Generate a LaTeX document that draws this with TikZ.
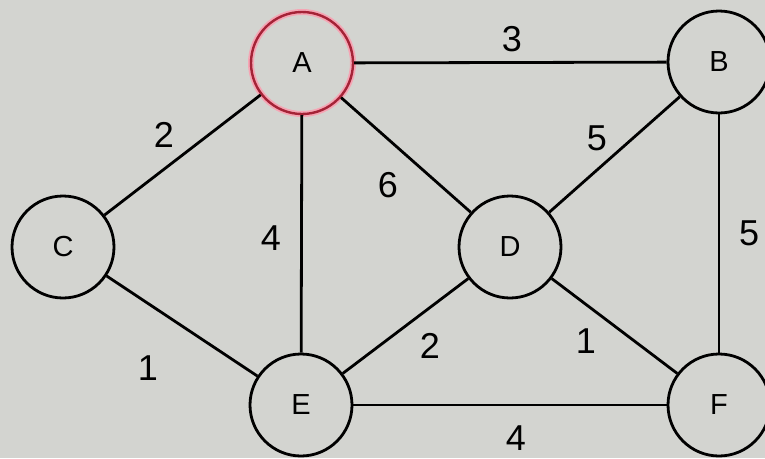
\documentclass[tikz,border=0pt]{standalone}
\usepackage{fontspec}
\setmainfont{Liberation Sans}
\definecolor{bggray}{RGB}{211,212,208}
\definecolor{ringred}{RGB}{165,35,55}
\definecolor{ringpink}{RGB}{245,165,180}
\begin{document}
\begin{tikzpicture}[x=1pt,y=-1pt,
  vertex/.style={circle,draw=black,line width=2.8pt,minimum size=102pt,inner sep=0pt,
    font=\fontsize{29}{29}\selectfont},
  picked/.style={draw=ringred,line width=2.4pt,
    preaction={draw=ringpink,line width=6pt}},
  edge/.style={draw=black,line width=2.8pt},
  weight/.style={inner sep=0pt,font=\fontsize{36}{36}\selectfont}]
  % canvas
  \fill[bggray] (0,0) rectangle (765,458);
  \useasboundingbox (0,0) rectangle (765,458);

  % vertices
  \node[vertex,picked] (A) at (302,63)  {A};
  \node[vertex]        (B) at (719,62)  {B};
  \node[vertex]        (C) at (63,247)  {C};
  \node[vertex]        (D) at (510,247) {D};
  \node[vertex]        (E) at (301,405) {E};
  \node[vertex]        (F) at (719,405) {F};

  % edges
  \draw[edge] (A) -- (B);
  \draw[edge] (A) -- (C);
  \draw[edge] (A) -- (E);
  \draw[edge] (A) -- (D);
  \draw[edge] (B) -- (D);
  \draw[edge] (B) -- (F);
  \draw[edge] (C) -- (E);
  \draw[edge] (D) -- (E);
  \draw[edge] (D) -- (F);
  \draw[edge] (E) -- (F);

  % edge weights
  \node[weight] (wAB) at (512,39)  {3};
  \node[weight] (wAC) at (164,135) {2};
  \node[weight] (wAD) at (388,185) {6};
  \node[weight] (wBD) at (597,138) {5};
  \node[weight] (wAE) at (271,238) {4};
  \node[weight] (wBF) at (749,233) {5};
  \node[weight] (wCE) at (148,368) {1};
  \node[weight] (wDE) at (430,346) {2};
  \node[weight] (wDF) at (586,341) {1};
  \node[weight] (wEF) at (516,438) {4};
\end{tikzpicture}
\end{document}
